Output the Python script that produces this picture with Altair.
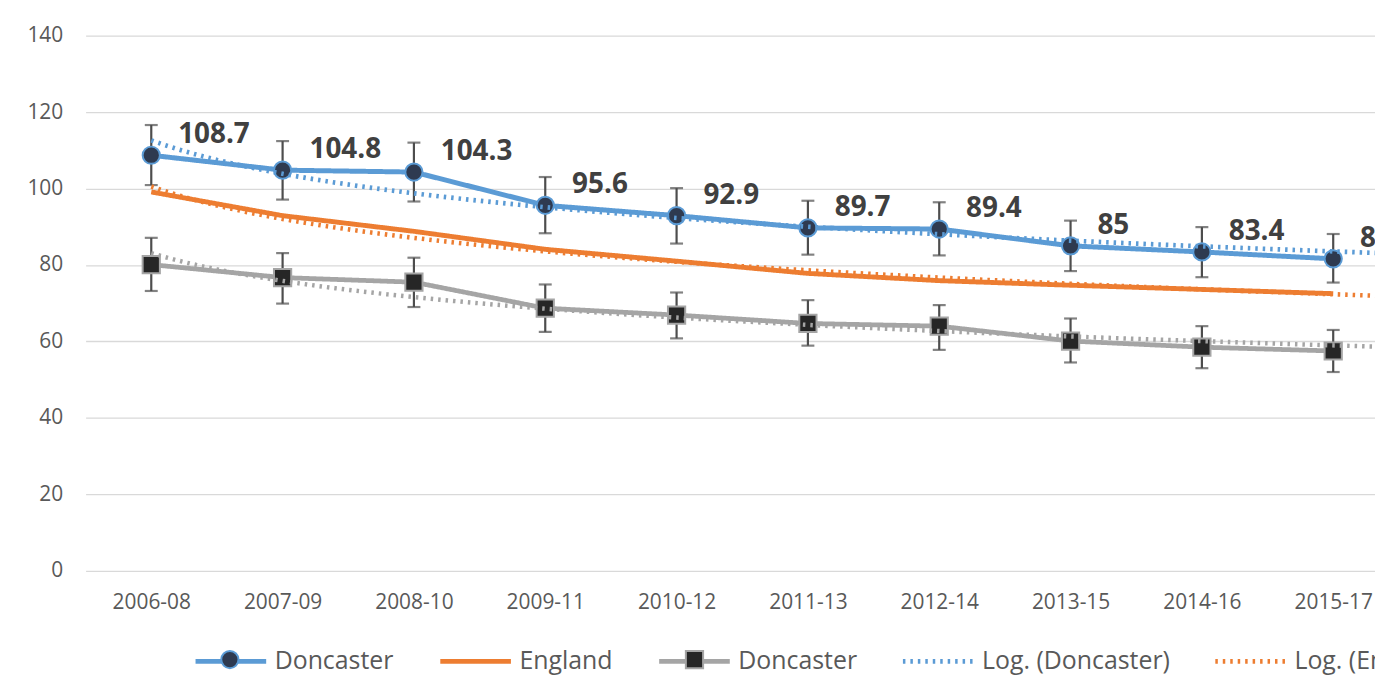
import altair as alt
import pandas as pd

categories = ["2006-08", "2007-09", "2008-10", "2009-11", "2010-12",
              "2011-13", "2012-14", "2013-15", "2014-16", "2015-17"]
doncaster = [108.7, 104.8, 104.3, 95.6, 92.9, 89.7, 89.4, 85.0, 83.4, 81.6]
doncaster_lo = [100.9, 97.1, 96.6, 88.3, 85.6, 82.7, 82.5, 78.4, 76.8, 75.4]
doncaster_hi = [116.6, 112.4, 112.0, 103.0, 100.1, 96.8, 96.4, 91.6, 89.9, 88.1]
england = [99.1, 92.9, 88.8, 84.1, 81.0, 77.8, 75.9, 74.7, 73.6, 72.5]
doncaster2 = [80.1, 76.7, 75.5, 68.7, 66.9, 64.7, 64.0, 60.1, 58.5, 57.5]
doncaster2_lo = [73.2, 69.9, 69.0, 62.5, 60.8, 58.9, 57.8, 54.5, 53.0, 52.0]
doncaster2_hi = [87.1, 83.1, 81.9, 74.9, 72.8, 70.8, 69.5, 66.0, 64.0, 63.0]

series_keys = ["s1", "s2", "s3", "s4", "s5", "s6"]
series_names = ["Doncaster", "England", "Doncaster",
                "Log. (Doncaster)", "Log. (England)", "Log. (Doncaster)"]
series_colors = ["#5B9BD5", "#ED7D31", "#A5A5A5", "#5B9BD5", "#ED7D31", "#A5A5A5"]
series_dash = [[1, 0], [1, 0], [1, 0], [2.5, 5], [2.5, 5], [2.5, 5]]
series_width = [5, 4.5, 5, 2.5, 2.5, 2.5]

idx = list(range(1, len(categories) + 1))

rows = []
for key, tkey, vals in [("s1", "s4", doncaster), ("s2", "s5", england), ("s3", "s6", doncaster2)]:
    for i, v in zip(idx, vals):
        rows.append({"idx": i, "value": v, "series": key, "trend": tkey})
df = pd.DataFrame(rows)

err_rows = []
for key, lo, hi in [("s1", doncaster_lo, doncaster_hi), ("s3", doncaster2_lo, doncaster2_hi)]:
    for i, a, b in zip(idx, lo, hi):
        err_rows.append({"idx": i, "lo": a, "hi": b, "series": key})
err_df = pd.DataFrame(err_rows)

PLOT_W = 1296
PLOT_H = 538
STEP = 132
xmax = 0.5 + PLOT_W / STEP

FONT = "Open Sans"
cat_js = "[" + ",".join("'%s'" % c for c in categories) + "]"
keys_js = "[" + ",".join("'%s'" % k for k in series_keys) + "]"
names_js = "[" + ",".join("'%s'" % n for n in series_names) + "]"

x_enc = alt.X("idx:Q",
              scale=alt.Scale(domain=[0.5, xmax], nice=False, zero=False),
              axis=alt.Axis(values=idx, labelExpr=cat_js + "[datum.value-1]",
                            grid=False, ticks=False, domain=False, title=None,
                            labelFont=FONT, labelFontSize=21, labelColor="#595959",
                            labelPadding=21, labelFlush=False, labelOverlap=False))
y_scale = alt.Scale(domain=[0, 140], nice=False, zero=True)
y_axis = alt.Axis(values=list(range(0, 141, 20)), title=None, ticks=False, domain=False,
                  grid=True, gridColor="#D9D9D9", gridWidth=1.3,
                  labelFont=FONT, labelFontSize=21, labelColor="#595959", labelPadding=23)

line_legend = alt.Legend(orient="none", legendX=108, legendY=591, direction="horizontal",
                         title=None, labelExpr=names_js + "[indexof(" + keys_js + ", datum.value)]",
                         labelFont=FONT, labelFontSize=25, labelColor="#595959", labelLimit=500,
                         symbolType="stroke", symbolSize=5041, labelOffset=6,
                         columnPadding=36, padding=0)

color_scale = alt.Scale(domain=series_keys, range=series_colors)
dash_scale = alt.Scale(domain=series_keys, range=series_dash)
width_scale = alt.Scale(domain=series_keys, range=series_width)

base = alt.Chart(df)

lines = base.mark_line(clip=True).encode(
    x=x_enc,
    y=alt.Y("value:Q", scale=y_scale, axis=y_axis),
    color=alt.Color("series:N", scale=color_scale, legend=line_legend),
    strokeDash=alt.StrokeDash("series:N", scale=dash_scale, legend=line_legend),
    strokeWidth=alt.StrokeWidth("series:N", scale=width_scale, legend=line_legend),
)

trends = base.transform_regression(
    "idx", "value", method="log", groupby=["trend"], extent=[1, 11]
).mark_line(clip=True).encode(
    x="idx:Q",
    y="value:Q",
    color=alt.Color("trend:N", scale=color_scale, legend=None),
    strokeDash=alt.StrokeDash("trend:N", scale=dash_scale, legend=None),
    strokeWidth=alt.StrokeWidth("trend:N", scale=width_scale, legend=None),
)

err = alt.Chart(err_df)
err_rule = err.mark_rule(color="#4D4D4D", strokeWidth=2.2).encode(
    x="idx:Q", y="lo:Q", y2="hi:Q")
err_lo = err.mark_tick(orient="horizontal", size=13, thickness=2.2, color="#4D4D4D").encode(
    x="idx:Q", y="lo:Q")
err_hi = err.mark_tick(orient="horizontal", size=13, thickness=2.2, color="#4D4D4D").encode(
    x="idx:Q", y="hi:Q")

MK_SIZE = 300
marker_legend = alt.Legend(orient="none", legendX=135, legendY=617, direction="horizontal",
                           title=None, labelExpr="''", symbolStrokeWidth=2,
                           symbolSize=MK_SIZE, labelOffset=0, columnPadding=441, padding=0)
mk_keys = ["s1", "s3"]
points = base.transform_filter(
    alt.FieldOneOfPredicate(field="series", oneOf=mk_keys)
).mark_point(filled=True, size=MK_SIZE, strokeWidth=2, opacity=1).encode(
    x="idx:Q",
    y="value:Q",
    shape=alt.Shape("series:N", scale=alt.Scale(domain=mk_keys, range=["circle", "square"]),
                    legend=marker_legend),
    fill=alt.Fill("series:N", scale=alt.Scale(domain=mk_keys, range=["#2E3A50", "#262626"]),
                  legend=marker_legend),
    stroke=alt.Stroke("series:N", scale=alt.Scale(domain=mk_keys, range=["#5B9BD5", "#A5A5A5"]),
                      legend=marker_legend),
)

labels = base.transform_filter(alt.datum.series == "s1").mark_text(
    align="left", baseline="middle", dx=27, dy=-20, font=FONT, fontSize=28,
    fontWeight="bold", color="#404040"
).encode(x="idx:Q", y="value:Q", text=alt.Text("value:Q"))

chart = alt.layer(lines, err_rule, err_lo, err_hi, points, trends, labels).properties(
    width=PLOT_W, height=PLOT_H,
    autosize=alt.AutoSizeParams(type="none"),
    padding={"left": 78, "top": 26, "right": 0, "bottom": 106},
    background="white",
).configure_view(stroke=None)

chart.save("out.html", embed_options={"renderer": "svg", "actions": False})
